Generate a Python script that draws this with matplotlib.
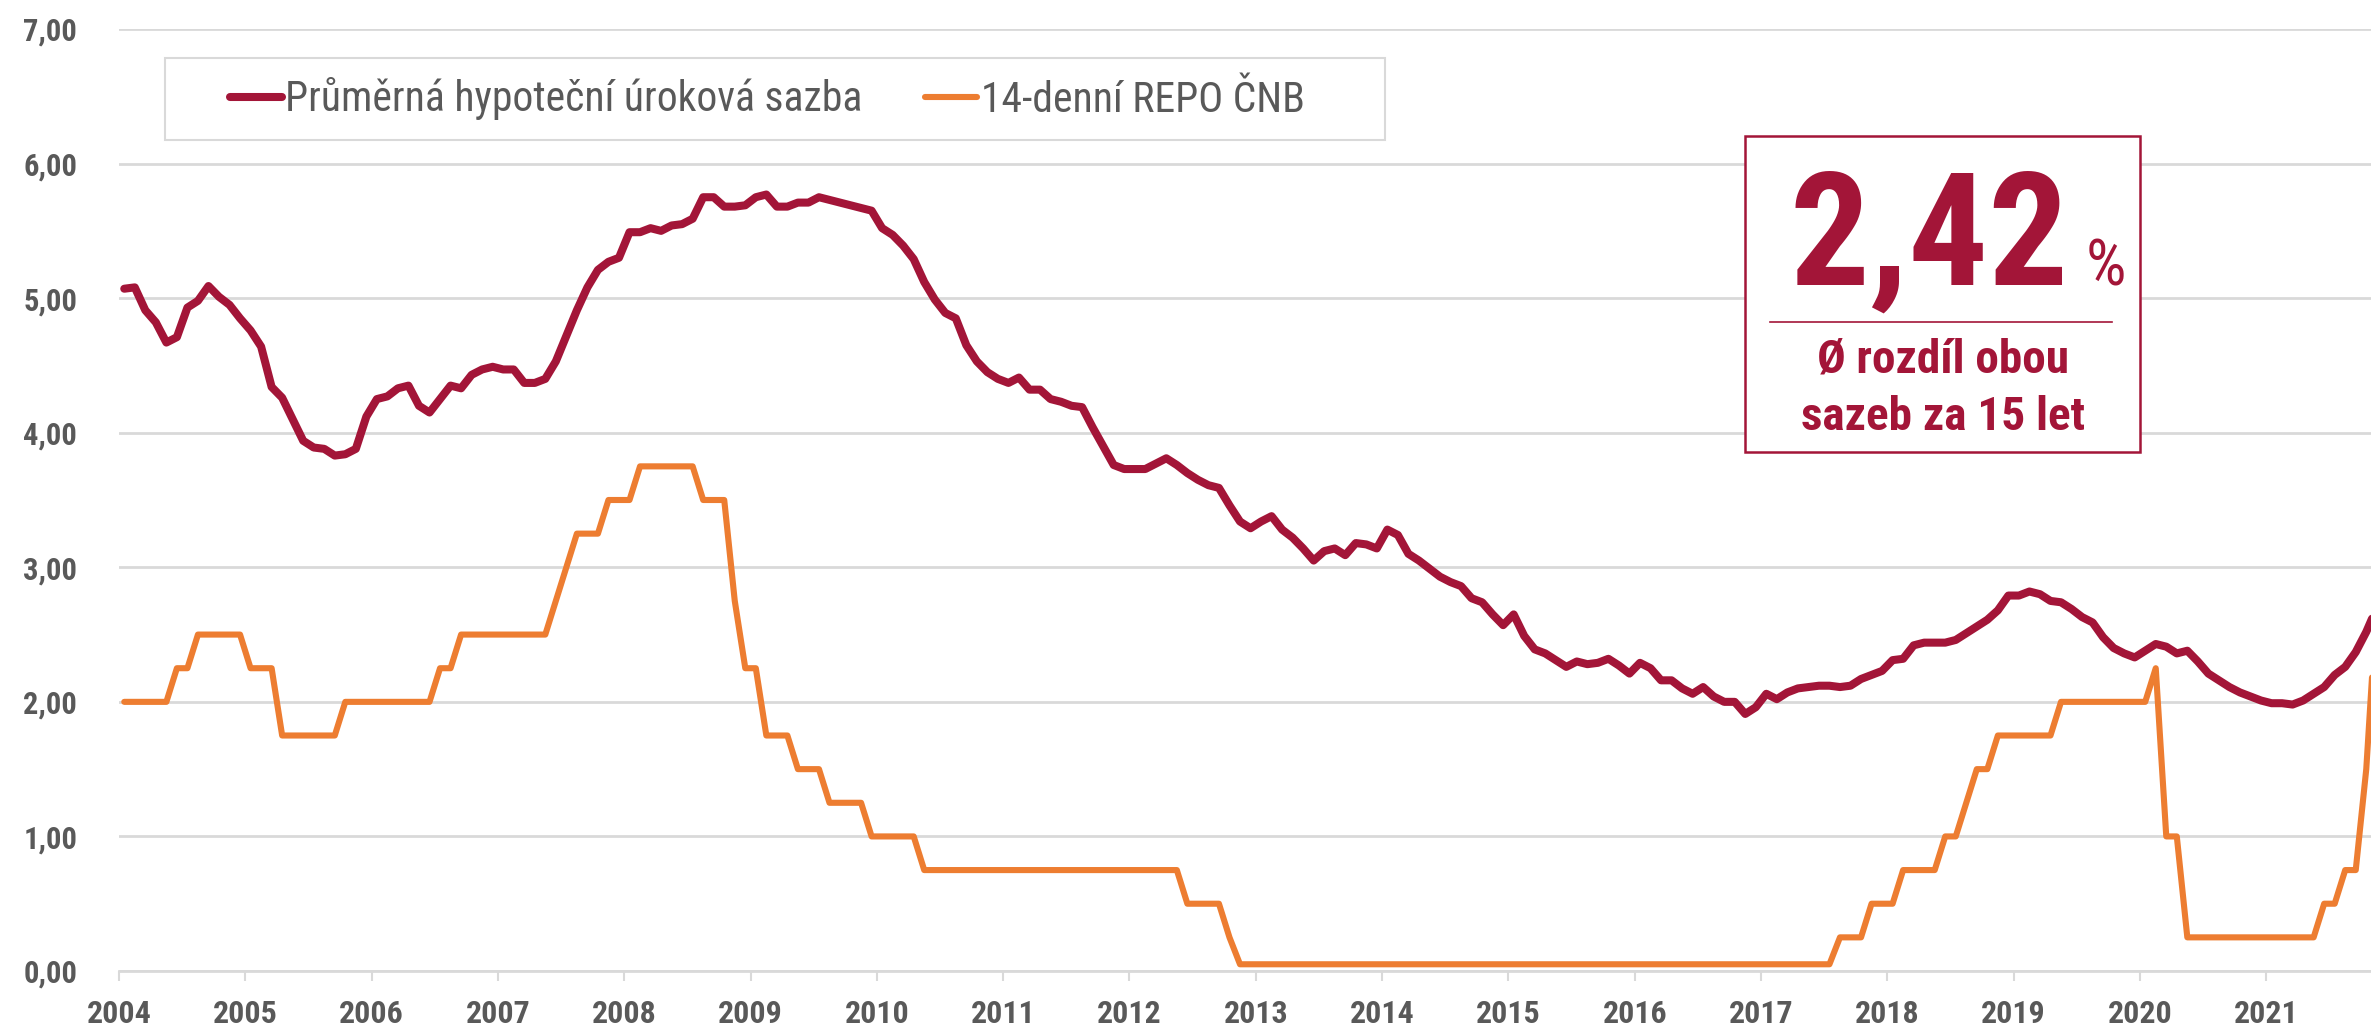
import numpy as np
import matplotlib
matplotlib.use("Agg")
import matplotlib.pyplot as plt
from matplotlib import font_manager as fm
from matplotlib.patches import Rectangle
from matplotlib.lines import Line2D

# monthly data, Jan 2004 .. Nov 2021
years = list(range(2004, 2022))
mortgage = [5.07, 5.08, 4.91, 4.82, 4.67, 4.71, 4.93, 4.98, 5.09, 5.01, 4.95, 4.85,
            4.76, 4.64, 4.34, 4.26, 4.10, 3.94, 3.89, 3.88, 3.83, 3.84, 3.88, 4.12,
            4.25, 4.27, 4.33, 4.35, 4.20, 4.15, 4.25, 4.35, 4.33, 4.43, 4.47, 4.49,
            4.47, 4.47, 4.37, 4.37, 4.40, 4.53, 4.72, 4.91, 5.08, 5.21, 5.27, 5.30,
            5.49, 5.49, 5.52, 5.50, 5.54, 5.55, 5.59, 5.75, 5.75, 5.68, 5.68, 5.69,
            5.75, 5.77, 5.68, 5.68, 5.71, 5.71, 5.75, 5.73, 5.71, 5.69, 5.67, 5.65,
            5.52, 5.47, 5.39, 5.29, 5.12, 4.99, 4.89, 4.85, 4.65, 4.53, 4.45, 4.40,
            4.37, 4.41, 4.32, 4.32, 4.25, 4.23, 4.20, 4.19, 4.04, 3.90, 3.76, 3.73,
            3.73, 3.73, 3.77, 3.81, 3.76, 3.70, 3.65, 3.61, 3.59, 3.46, 3.34, 3.29,
            3.34, 3.38, 3.28, 3.22, 3.14, 3.05, 3.12, 3.14, 3.09, 3.18, 3.17, 3.14,
            3.28, 3.24, 3.10, 3.05, 2.99, 2.93, 2.89, 2.86, 2.77, 2.74, 2.65, 2.57,
            2.65, 2.49, 2.39, 2.36, 2.31, 2.26, 2.30, 2.28, 2.29, 2.32, 2.27, 2.21,
            2.29, 2.25, 2.16, 2.16, 2.10, 2.06, 2.11, 2.04, 2.00, 2.00, 1.91, 1.96,
            2.06, 2.02, 2.07, 2.10, 2.11, 2.12, 2.12, 2.11, 2.12, 2.17, 2.20, 2.23,
            2.31, 2.32, 2.42, 2.44, 2.44, 2.44, 2.46, 2.51, 2.56, 2.61, 2.68, 2.79,
            2.79, 2.82, 2.80, 2.75, 2.74, 2.69, 2.63, 2.59, 2.48, 2.40, 2.36, 2.33,
            2.38, 2.43, 2.41, 2.36, 2.38, 2.30, 2.21, 2.16, 2.11, 2.07, 2.04, 2.01,
            1.99, 1.99, 1.98, 2.01, 2.06, 2.11, 2.20, 2.26, 2.37, 2.52, 2.70]

# 2W repo rate, (value, number of months)
repo_steps = [(2.00, 5), (2.25, 2), (2.50, 5), (2.25, 3), (1.75, 6), (2.00, 9),
              (2.25, 2), (2.50, 9), (2.75, 1), (3.00, 1), (3.25, 3), (3.50, 3),
              (3.75, 6), (3.50, 3), (2.75, 1), (2.25, 2), (1.75, 3), (1.50, 3),
              (1.25, 4), (1.00, 5), (0.75, 25), (0.50, 4), (0.25, 1), (0.05, 57),
              (0.25, 3), (0.50, 3), (0.75, 4), (1.00, 2), (1.25, 1), (1.50, 2),
              (1.75, 6), (2.00, 9), (2.25, 1), (1.00, 2), (0.25, 13), (0.50, 2),
              (0.75, 2), (1.50, 1), (2.75, 1)]
repo = [v for v, n in repo_steps for _ in range(n)]

label_mortgage = "Průměrná hypoteční úroková sazba"
label_repo = "14-denní REPO ČNB"

MAROON = "#A31538"
ORANGE = "#ED7D31"
GRAY = "#595959"
GRID = "#D9D9D9"

# try to find a narrow font, the original uses a condensed face
names = {f.name for f in fm.fontManager.ttflist}
narrow = None
for n in ["Liberation Sans Narrow", "Roboto Condensed", "Open Sans Condensed",
          "DejaVu Sans Condensed", "Noto Sans Condensed"]:
    if n in names:
        narrow = n
        break
stretch = "normal"
if narrow is None:
    others = sorted(n for n in names if "Narrow" in n or "Condensed" in n)
    if others:
        narrow = others[0]
    else:
        cond = [f.name for f in fm.fontManager.ttflist
                if f.stretch in ("condensed", "semi-condensed", "extra-condensed")]
        if cond:
            narrow = cond[0]
            stretch = "condensed"
if narrow is None:
    narrow = "Liberation Sans"
    k = 0.86
else:
    k = 1.0
plt.rcParams["font.family"] = [narrow, "DejaVu Sans"]
plt.rcParams["font.stretch"] = stretch

W, H = 2371, 1028
fig = plt.figure(figsize=(W / 100, H / 100), dpi=100)
ax = fig.add_axes([119 / W, 1 - 971 / H, 1 - 119 / W, (971 - 29) / H])

x = np.arange(len(mortgage))
ax.plot(x, mortgage, color=MAROON, lw=5.8, solid_joinstyle="round",
        solid_capstyle="round", label=label_mortgage, zorder=3)
ax.plot(np.arange(len(repo)), repo, color=ORANGE, lw=4.4, solid_joinstyle="round",
        solid_capstyle="round", label=label_repo, zorder=2)

ax.set_xlim(-0.5, 213.45)
ax.set_ylim(0, 7)
ax.set_yticks(range(0, 8))
ax.set_yticklabels(["%d,00" % v for v in range(0, 8)])
ax.set_xticks([-0.5 + 12 * i for i in range(len(years))])
ax.set_xticklabels([str(y) for y in years])

for s in ["top", "right", "left"]:
    ax.spines[s].set_visible(False)
ax.spines["bottom"].set_color(GRID)
ax.spines["bottom"].set_linewidth(2)
ax.yaxis.grid(True, color=GRID, lw=2)
ax.set_axisbelow(True)
ax.tick_params(axis="y", length=0, pad=30, labelsize=22 * k, labelcolor=GRAY)
ax.tick_params(axis="x", length=7, width=1.5, color=GRID, pad=13,
               labelsize=23 * k, labelcolor=GRAY)
for t in ax.get_xticklabels() + ax.get_yticklabels():
    t.set_fontweight("bold")

# legend: frame drawn separately
fig.add_artist(Rectangle((165 / W, 1 - 140 / H), (1385 - 165) / W, 82 / H,
                         transform=fig.transFigure, fill=False, edgecolor=GRID, lw=1.5))
leg = ax.legend(loc="center left", bbox_to_anchor=(230 / W, 1 - 99 / H),
                bbox_transform=fig.transFigure, ncol=2, frameon=False,
                fontsize=30 * k, borderpad=0, borderaxespad=0, handlelength=1.25,
                handletextpad=0.08, columnspacing=1.5)
for t in leg.get_texts():
    t.set_color(GRAY)

# info box
fig.add_artist(Rectangle((1745 / W, 1 - 452 / H), (2140 - 1745) / W, (452 - 136) / H,
                         transform=fig.transFigure, facecolor="white",
                         edgecolor=MAROON, lw=1.8, zorder=5))
fig.add_artist(Line2D([1770 / W, 2112 / W], [1 - 322 / H, 1 - 322 / H],
                      transform=fig.transFigure, color=MAROON, lw=1.2, zorder=6))
big = fig.text(1790 / W, 1 - 285 / H, "2,42", color=MAROON, fontsize=114 * k,
               fontweight="bold", ha="left", va="baseline", zorder=6)
fig.canvas.draw()
bb = big.get_window_extent()
fig.text((bb.x1 + 16) / W, 1 - 286 / H, "%", color=MAROON, fontsize=46 * k,
         ha="left", va="baseline", zorder=6)
fig.text(1943 / W, 1 - 372 / H, "Ø rozdíl obou", color=MAROON, fontsize=34 * k,
         fontweight="bold", ha="center", va="baseline", zorder=6)
fig.text(1943 / W, 1 - 430 / H, "sazeb za 15 let", color=MAROON, fontsize=34 * k,
         fontweight="bold", ha="center", va="baseline", zorder=6)

fig.savefig("out.png", dpi=100)
